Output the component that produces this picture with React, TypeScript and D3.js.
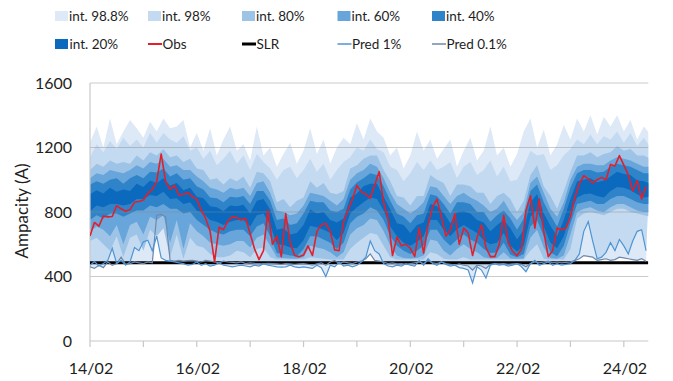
import React from "react";
import * as d3 from "d3";

// ---- data ----
// band bounds: 3-hour steps from 14/02 00:00
const BAND_STEP_H = 3;
const upper988 = [1230,1330,1200,1380,1220,1300,1370,1320,1260,1360,1300,1380,1320,1330,1370,1200,1290,1180,1320,1150,1250,1330,1180,1220,1120,1330,1150,1200,1080,1160,1230,1100,1180,1320,1160,1250,1100,1200,1260,1220,1350,1250,1380,1300,1260,1150,1200,1070,1150,1300,1180,1250,1130,1190,1250,1080,1180,1260,1120,1180,1330,1150,1200,1080,1160,1300,1380,1200,1310,1150,1220,1340,1250,1380,1300,1400,1280,1390,1330,1400,1300,1370,1250,1330,1280];
const upper98 = [1140,1220,1170,1240,1190,1260,1210,1250,1200,1290,1230,1290,1250,1230,1270,1180,1200,1130,1180,1090,1130,1180,1100,1150,1060,1160,1110,1070,1000,1060,1080,1010,1060,1130,1050,1100,1000,1060,1110,1140,1200,1180,1250,1190,1170,1080,1060,990,1040,1110,1060,1120,1060,1080,1110,1010,1080,1110,1030,1060,1120,1020,1080,990,1000,1080,1180,1150,1160,1060,1090,1150,1190,1250,1220,1280,1220,1270,1250,1300,1230,1290,1210,1260,1200];
const upper80 = [1060,1100,1080,1120,1100,1110,1100,1150,1120,1170,1150,1190,1140,1150,1110,1130,1070,1060,1000,1010,970,1010,990,1020,950,1050,1040,990,860,880,830,870,890,990,950,980,920,910,930,1070,1090,1130,1150,1150,1060,990,900,890,840,900,900,1030,1000,980,900,970,970,960,920,920,850,900,920,880,800,870,1030,1090,960,900,820,930,1050,1150,1150,1170,1140,1160,1170,1210,1180,1190,1150,1150,1130];
const upper60 = [1010,1040,1030,1060,1050,1040,1060,1090,1070,1110,1100,1130,1080,1090,1060,1060,1020,990,950,940,920,950,940,950,900,980,990,920,810,800,780,790,840,920,910,900,870,840,880,1000,1040,1060,1100,1080,1010,920,850,820,790,820,860,960,950,900,850,900,920,890,870,840,800,820,870,800,750,800,980,1020,920,820,770,860,1000,1080,1100,1100,1090,1090,1120,1140,1130,1120,1100,1080,1080];
const upper40 = [970,990,975,1000,1010,975,1010,1030,1010,1050,1045,1070,1020,1040,1000,1010,960,940,890,885,860,895,890,900,850,930,930,870,750,760,720,730,790,870,860,860,810,800,820,940,985,1010,1040,1030,960,870,790,770,730,780,790,910,900,850,790,860,860,850,800,800,740,780,810,760,690,760,930,970,860,780,710,820,950,1040,1060,1060,1045,1050,1080,1100,1090,1080,1060,1040,1040];
const upper20 = [910,935,915,950,925,940,930,975,955,995,980,1010,965,980,935,950,895,885,835,830,805,840,835,845,790,870,880,815,690,700,660,670,720,815,790,800,750,735,760,890,915,960,975,975,895,815,730,720,670,720,735,850,835,795,730,800,805,790,750,735,680,720,750,700,630,690,860,910,790,715,650,750,880,990,1000,1010,985,995,1020,1050,1035,1030,995,990,975];
const lower20 = [805,840,830,850,850,840,850,880,880,905,900,925,880,885,850,860,810,790,750,740,720,740,750,750,710,780,790,720,600,595,580,575,625,715,705,690,670,625,670,790,830,860,890,880,810,710,650,610,590,615,650,750,750,690,650,695,720,695,670,625,600,610,670,590,555,590,770,810,710,610,575,650,790,890,910,915,900,890,930,955,950,935,910,890,895];
const lower40 = [750,780,760,790,790,770,790,810,810,840,830,850,820,820,790,800,750,720,690,670,660,680,690,690,650,710,730,650,545,540,530,525,570,650,650,630,610,570,610,730,770,790,830,810,750,650,590,560,540,560,590,690,690,630,590,630,660,630,610,570,545,550,610,535,520,540,710,750,650,550,525,590,730,850,860,870,850,850,880,900,900,880,860,850,850];
const lower60 = [680,710,690,650,720,600,720,740,660,770,750,780,610,750,570,730,680,650,610,600,590,600,620,620,580,640,660,590,520,515,512,510,520,590,580,570,550,520,550,660,700,720,760,750,680,590,530,515,512,515,530,630,620,560,530,570,600,570,550,520,512,515,550,512,510,512,640,690,580,515,510,530,660,800,820,830,810,800,830,850,850,830,810,800,800];
const lower80 = [620,640,600,560,650,520,640,660,560,690,650,700,520,660,510,640,590,580,540,520,520,530,560,550,520,570,580,520,505,505,505,505,505,520,515,510,505,505,505,570,610,640,670,660,590,520,505,505,505,505,505,550,540,510,505,505,520,505,505,505,505,505,505,505,505,505,560,600,510,505,505,505,570,760,790,800,790,780,800,820,820,800,790,780,770];

// lines: 2-hour steps from 14/02 00:00
const LINE_STEP_H = 2;
const obs = [651,735,712,775,770,772,840,820,805,815,860,865,874,915,940,990,1160,990,940,965,905,910,920,895,880,812,760,680,490,705,690,745,770,765,750,760,665,570,505,560,812,600,650,523,790,610,530,523,533,590,530,680,720,730,680,565,560,740,812,880,965,925,910,885,967,1050,860,760,530,645,590,600,575,525,700,545,720,830,880,770,650,690,790,600,700,670,530,640,720,580,523,523,600,780,610,555,530,570,810,900,700,880,680,523,560,700,690,700,771,890,975,1025,1005,980,1000,1015,1000,1095,1085,1150,1091,1030,930,995,880,960];
const pred1 = [470,492,465,480,500,575,480,500,470,490,580,560,615,625,560,650,515,500,495,490,485,480,470,475,490,470,480,465,470,485,470,465,460,465,470,465,460,470,465,480,470,465,460,458,460,470,460,455,460,455,450,470,455,400,470,460,490,465,470,460,470,490,520,620,560,540,480,465,460,470,465,480,470,465,500,470,510,480,470,490,475,465,470,455,450,440,360,460,440,390,470,480,470,475,465,470,480,460,430,480,500,470,480,490,470,480,470,475,480,500,540,680,740,620,510,520,550,610,560,630,590,540,620,680,690,560];
const pred01 = [460,450,470,455,490,470,480,520,475,480,490,485,480,490,485,780,785,770,500,495,500,495,498,500,495,490,500,495,490,485,495,490,488,485,490,480,485,482,480,478,482,480,478,475,480,478,475,478,480,476,470,478,485,470,490,500,480,490,485,480,490,495,510,540,500,495,490,480,485,478,480,475,480,485,490,480,500,485,480,490,480,475,470,478,470,465,440,470,465,450,475,480,478,480,475,478,480,475,460,480,490,485,490,495,485,490,485,488,490,500,510,530,525,520,500,505,510,500,505,520,515,510,505,500,510,495];
const slr = 485;

const yTicks = [0, 400, 800, 1200, 1600];
const dayTicks = [0,1,2,3,4,5,6,7,8,9,10];
const dayLabels = ["14/02","","16/02","","18/02","","20/02","","22/02","","24/02"];
const totalHours = 251;

const colors = {
  c988: "#dde9f6", c98: "#c4daf0", c80: "#9dc4e7", c60: "#67a5da", c40: "#2f84c9", c20: "#0b69be",
  obs: "#e2202b", slr: "#000000", p1: "#4f94d3", p01: "#6e88ab",
};

const FONT = "Lato, 'Open Sans', sans-serif";

export default function App() {
  const L = 90, R = 648.3, T = 83, B = 341;
  const x = d3.scaleLinear().domain([0, totalHours]).range([L, R]);
  const y = d3.scaleLinear().domain([0, 1600]).range([B, T]);
  const line = d3.line<[number, number]>().x(d => x(d[0])).y(d => y(d[1]));

  const pts = (arr: number[], step: number): [number, number][] => arr.map((v, i) => [i * step, v]);
  const band = (up: number[], upStep: number, lo: number[], loStep: number) =>
    line([...pts(up, upStep), ...pts(lo, loStep).reverse()]) + "Z";

  const predMin = pred1.map((v, i) => Math.min(v, pred01[i]));
  const predMax = pred1.map((v, i) => Math.max(v, pred01[i]));

  const bands = [
    { d: band(upper988, BAND_STEP_H, predMin, LINE_STEP_H), c: colors.c988 },
    { d: band(upper98, BAND_STEP_H, predMax, LINE_STEP_H), c: colors.c98 },
    { d: band(upper80, BAND_STEP_H, lower80, BAND_STEP_H), c: colors.c80 },
    { d: band(upper60, BAND_STEP_H, lower60, BAND_STEP_H), c: colors.c60 },
    { d: band(upper40, BAND_STEP_H, lower40, BAND_STEP_H), c: colors.c40 },
    { d: band(upper20, BAND_STEP_H, lower20, BAND_STEP_H), c: colors.c20 },
  ];

  const legendCols = [55, 148, 242, 337.5, 432];
  const legendRow1 = [
    { label: "int. 98.8%", c: colors.c988 },
    { label: "int. 98%", c: colors.c98 },
    { label: "int. 80%", c: colors.c80 },
    { label: "int. 60%", c: colors.c60 },
    { label: "int. 40%", c: colors.c40 },
  ];
  const legendRow2 = [
    { label: "int. 20%", c: colors.c20, type: "rect", w: 0 },
    { label: "Obs", c: colors.obs, type: "line", w: 2 },
    { label: "SLR", c: colors.slr, type: "line", w: 3 },
    { label: "Pred 1%", c: colors.p1, type: "line", w: 1.5 },
    { label: "Pred 0.1%", c: colors.p01, type: "line", w: 1.5 },
  ];

  return (
    <svg width={673} height={381} style={{ position: "absolute", left: 0, top: 0, background: "#fff" }} fontFamily={FONT}>
      <defs>
        <clipPath id="plot"><rect x={L} y={T - 10} width={R - L} height={B - T + 10} /></clipPath>
      </defs>
      <g clipPath="url(#plot)">
        {bands.map((b, i) => <path key={i} d={b.d} fill={b.c} stroke="none" />)}
      </g>
      {yTicks.filter(t => t > 0).map(t => (
        <line key={t} x1={L} x2={R} y1={y(t)} y2={y(t)} stroke="#8c8c8c" strokeOpacity={0.45} strokeWidth={1.2} />
      ))}
      <line x1={L} x2={L} y1={T} y2={B} stroke="#c8c8c8" strokeWidth={1.2} />
      <line x1={L} x2={R} y1={B} y2={B} stroke="#c8c8c8" strokeWidth={1.2} />
      {dayTicks.map(d => (
        <line key={d} x1={x(d * 24)} x2={x(d * 24)} y1={B} y2={B + 6} stroke="#c8c8c8" strokeWidth={1.2} />
      ))}
      <g clipPath="url(#plot)">
        <line x1={L} x2={R} y1={y(slr)} y2={y(slr)} stroke={colors.slr} strokeWidth={3} />
        <path d={line(pts(pred01, LINE_STEP_H)) || ""} fill="none" stroke={colors.p01} strokeWidth={1.2} />
        <path d={line(pts(pred1, LINE_STEP_H)) || ""} fill="none" stroke={colors.p1} strokeWidth={1.2} />
        <path d={line(pts(obs, LINE_STEP_H)) || ""} fill="none" stroke={colors.obs} strokeWidth={1.6} strokeLinejoin="round" />
      </g>
      {yTicks.map(t => (
        <text key={t} x={72} y={y(t)} dy="0.35em" textAnchor="end" fontSize={16} fill="#1e1e1e">{t}</text>
      ))}
      {dayTicks.map((d, i) => dayLabels[i] ? (
        <text key={d} x={x(d * 24) + 1} y={374} textAnchor="middle" fontSize={16} fill="#1e1e1e">{dayLabels[i]}</text>
      ) : null)}
      <text transform={`translate(28,211) rotate(-90)`} textAnchor="middle" fontSize={17} fill="#1e1e1e">Ampacity (A)</text>
      {legendRow1.map((it, i) => (
        <g key={it.label} transform={`translate(${legendCols[i]},16)`}>
          <rect x={0} y={-5} width={13} height={10} fill={it.c} />
          <text x={14} y={0} dy="0.35em" fontSize={13.5} fill="#1e1e1e">{it.label}</text>
        </g>
      ))}
      {legendRow2.map((it, i) => (
        <g key={it.label} transform={`translate(${legendCols[i]},44)`}>
          {it.type === "rect"
            ? <rect x={0} y={-5} width={13} height={10} fill={it.c} />
            : <line x1={0} x2={14} y1={0} y2={0} stroke={it.c} strokeWidth={it.w} />}
          <text x={14.5} y={0} dy="0.35em" fontSize={13.5} fill="#1e1e1e">{it.label}</text>
        </g>
      ))}
    </svg>
  );
}
